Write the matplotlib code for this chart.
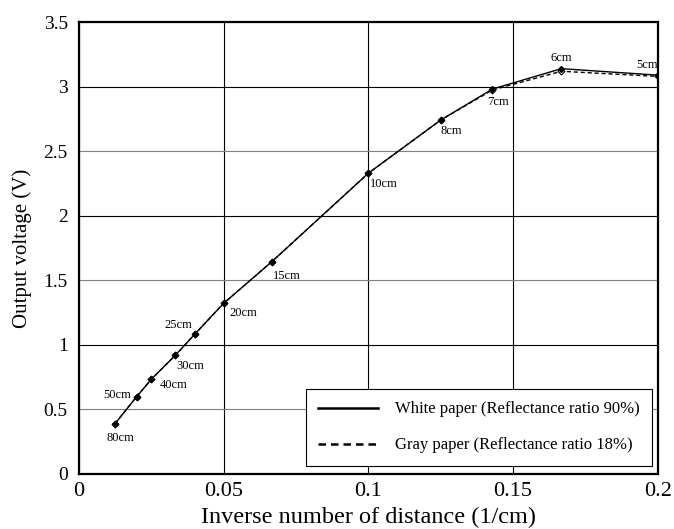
import matplotlib
matplotlib.use("Agg")
import matplotlib.pyplot as plt

plt.rcParams['font.family'] = ['Liberation Serif', 'DejaVu Serif']

distance_cm = [80, 50, 40, 30, 25, 20, 15, 10, 8, 7, 6, 5]
inv_distance = [1 / d for d in distance_cm]
white_v = [0.39, 0.60, 0.733, 0.92, 1.082, 1.322, 1.645, 2.33, 2.742, 2.982, 3.14, 3.09]
gray_v = [0.39, 0.60, 0.733, 0.92, 1.082, 1.322, 1.645, 2.33, 2.742, 2.975, 3.12, 3.08]
point_labels = [f"{d}cm" for d in distance_cm]
# label offsets in points (dx, dy) and horizontal alignment
label_offsets = [(4, -10, 'center'), (-4, 1, 'right'), (6, -4, 'left'), (1, -8, 'left'),
                 (-2, 7, 'right'), (4, -7, 'left'), (1, -10, 'left'), (1, -8, 'left'),
                 (0, -8, 'left'), (-4, -9, 'left'), (0, 8, 'center'), (0, 7, 'right')]

x_ticks = [0, 0.05, 0.1, 0.15, 0.2]
x_tick_labels = ['0', '0.05', '0.1', '0.15', '0.2']
y_ticks = [0, 0.5, 1, 1.5, 2, 2.5, 3, 3.5]
y_tick_labels = ['0', '0.5', '1', '1.5', '2', '2.5', '3', '3.5']

fig = plt.figure(figsize=(6.74, 5.29), dpi=100)
ax = fig.add_axes([0.117, 0.104, 0.859, 0.854])

ax.plot(inv_distance, gray_v, color='black', linestyle=(0, (3, 2)), linewidth=1.0,
        marker='D', markersize=3.5, markerfacecolor='white', markeredgecolor='black',
        markeredgewidth=0.8, label='Gray paper (Reflectance ratio 18%)', zorder=3)
ax.plot(inv_distance, white_v, color='black', linestyle='-', linewidth=1.0,
        marker='D', markersize=3, markerfacecolor='black', markeredgecolor='black',
        label='White paper (Reflectance ratio 90%)', zorder=4)

for xv, yv, lab, (dx, dy, ha) in zip(inv_distance, white_v, point_labels, label_offsets):
    ax.annotate(lab, (xv, yv), xytext=(dx, dy), textcoords='offset points',
                ha=ha, va='center', fontsize=9)

ax.set_xlim(0, 0.2)
ax.set_ylim(0, 3.5)
ax.set_xticks(x_ticks)
ax.set_xticklabels(x_tick_labels)
ax.set_yticks(y_ticks)
ax.set_yticklabels(y_tick_labels)
ax.tick_params(length=0, labelsize=14, pad=8)
ax.tick_params(axis='x', labelsize=16, pad=6)
ax.grid(True, color='black', linewidth=0.8)
for tv, gl in zip(y_ticks, ax.yaxis.get_gridlines()):
    if abs(tv * 2 - round(tv * 2)) < 1e-9 and abs(tv - round(tv)) > 1e-9:
        gl.set_color('#808080')
ax.set_axisbelow(True)
for s in ax.spines.values():
    s.set_linewidth(1.6)

ax.set_xlabel('Inverse number of distance (1/cm)', fontsize=17.5, labelpad=4)
ax.set_ylabel('Output voltage (V)', fontsize=15, labelpad=8)

handles, labels = ax.get_legend_handles_labels()
leg = ax.legend(handles[::-1], labels[::-1], loc='lower right', fontsize=12,
                fancybox=False, framealpha=1, edgecolor='black', handlelength=3.6,
                handletextpad=1.0, labelspacing=1.2, borderpad=0.75,
                borderaxespad=0, bbox_to_anchor=(0.99, 0.018))
for h in leg.legend_handles:
    h.set_marker('')
    h.set_linewidth(1.8)
leg.get_frame().set_linewidth(0.8)

fig.savefig('out.png', dpi=100)
